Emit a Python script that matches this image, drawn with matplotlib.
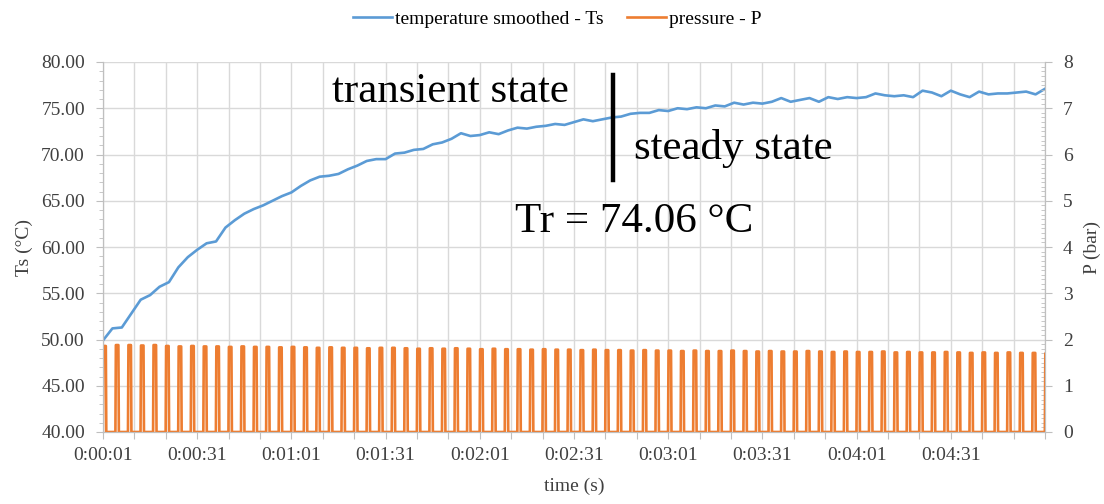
import matplotlib
matplotlib.use("Agg")
import matplotlib.pyplot as plt
from matplotlib.ticker import MultipleLocator, FixedLocator, FuncFormatter

plt.rcParams['font.family'] = ['Liberation Serif', 'DejaVu Serif']

# temperature smoothed (degC), read every 3 s from t = 1 s
temp_time = list(range(1, 302, 3))
temp_vals = [49.9, 51.2, 51.3, 52.8, 54.3, 54.8, 55.7, 56.2, 57.8, 58.9,
             59.7, 60.4, 60.6, 62.1, 62.9, 63.6, 64.1, 64.5, 65.0, 65.5,
             65.9, 66.6, 67.2, 67.6, 67.7, 67.9, 68.4, 68.8, 69.3, 69.5,
             69.5, 70.1, 70.2, 70.5, 70.6, 71.1, 71.3, 71.7, 72.3, 72.0,
             72.1, 72.4, 72.2, 72.6, 72.9, 72.8, 73.0, 73.1, 73.3, 73.2,
             73.5, 73.8, 73.6, 73.8, 74.0, 74.1, 74.4, 74.5, 74.5, 74.8,
             74.7, 75.0, 74.9, 75.1, 75.0, 75.3, 75.2, 75.6, 75.4, 75.6,
             75.5, 75.7, 76.1, 75.7, 75.9, 76.1, 75.7, 76.2, 76.0, 76.2,
             76.1, 76.2, 76.6, 76.4, 76.3, 76.4, 76.2, 76.9, 76.7, 76.3,
             76.9, 76.5, 76.2, 76.8, 76.5, 76.6, 76.6, 76.7, 76.8, 76.5,
             77.1]

# pressure pulses (bar): one pulse every 4 s, peak value of each pulse
pulse_time = list(range(1, 302, 4))
pulse_peak = [1.86, 1.88, 1.88, 1.87, 1.88, 1.86, 1.85, 1.86, 1.85, 1.85,
              1.84, 1.85, 1.84, 1.84, 1.83, 1.84, 1.83, 1.82, 1.83, 1.82,
              1.82, 1.81, 1.82, 1.82, 1.81, 1.80, 1.81, 1.80, 1.81, 1.80,
              1.79, 1.80, 1.79, 1.79, 1.78, 1.79, 1.78, 1.78, 1.77, 1.78,
              1.77, 1.77, 1.76, 1.77, 1.76, 1.76, 1.75, 1.76, 1.75, 1.75,
              1.76, 1.75, 1.74, 1.75, 1.74, 1.74, 1.75, 1.74, 1.73, 1.74,
              1.73, 1.73, 1.74, 1.72, 1.73, 1.72, 1.72, 1.73, 1.72, 1.71,
              1.72, 1.71, 1.72, 1.71, 1.71, 1.70]

tr_value = 74.06
tr_time = 163.5

blue = '#5b9bd5'
orange = '#ed7d31'
grey = '#d9d9d9'
txt = '#404040'

# pulse waveform for the line plot
p_t = []
p_v = []
for t0, pk in zip(pulse_time, pulse_peak):
    p_t += [t0 - 0.05, t0 + 0.1, t0 + 0.9, t0 + 1.05]
    p_v += [0, pk, pk, 0]


def hms(x, pos):
    s = int(round(x))
    if (s - 1) % 30 != 0 or s > 290:
        return ''
    return "%d:%02d:%02d" % (s // 3600, (s % 3600) // 60, s % 60)


fig = plt.figure(figsize=(11.04, 5.04), dpi=100)
ax = fig.add_axes([103 / 1104, 72 / 504, 942 / 1104, 370 / 504])
ax2 = ax.twinx()

l1, = ax.plot(temp_time, temp_vals, color=blue, lw=1.9, label='temperature smoothed - Ts')
l2, = ax2.plot(p_t, p_v, color=orange, lw=1.9, label='pressure - P')

ax.set_xlim(1, 301)
ax.set_ylim(40, 80)
ax2.set_ylim(0, 8)

ax.xaxis.set_major_locator(FixedLocator(list(range(1, 302, 10))))
ax.xaxis.set_major_formatter(FuncFormatter(hms))
ax.yaxis.set_major_locator(MultipleLocator(5))
ax.yaxis.set_minor_locator(MultipleLocator(1))
ax.yaxis.set_major_formatter(FuncFormatter(lambda y, p: "%.2f" % y))
ax2.yaxis.set_major_locator(MultipleLocator(1))
ax2.yaxis.set_minor_locator(MultipleLocator(0.1))

ax.grid(True, which='major', color=grey, lw=1.0)
ax.set_axisbelow(True)

for a in (ax, ax2):
    a.spines['top'].set_visible(False)
    for side in ('left', 'right', 'bottom'):
        a.spines[side].set_color('#bfbfbf')
ax.tick_params(axis='both', which='major', colors='#bfbfbf', labelcolor=txt, labelsize=14, length=5)
ax.tick_params(axis='y', which='minor', colors='#bfbfbf', length=3)
ax.tick_params(axis='y', pad=8)
ax.tick_params(axis='x', pad=6)
ax2.tick_params(axis='y', which='major', colors='#bfbfbf', labelcolor=txt, labelsize=14, length=5, pad=8)
ax2.tick_params(axis='y', which='minor', colors='#bfbfbf', length=3, direction='in')

ax.set_xlabel('time (s)', fontsize=14, color=txt, labelpad=10)
ax.set_ylabel('Ts (\u00b0C)', fontsize=14, color=txt, labelpad=6)
ax2.set_ylabel('P (bar)', fontsize=14, color=txt, labelpad=8)

# annotations
ax.text(149.5, 76.8, 'transient state', fontsize=31, ha='right', va='center', color='black')
ax.text(170.0, 70.7, 'steady state', fontsize=31, ha='left', va='center', color='black')
ax.text(132.3, 62.7, 'Tr = %.2f \u00b0C' % tr_value, fontsize=31, ha='left', va='center', color='black')
ax.plot([tr_time, tr_time], [67.2, 78.6], color='black', lw=3.2)

fig.legend(handles=[l1, l2], loc='upper center', bbox_to_anchor=(0.505, 1.015), ncol=2,
           frameon=False, fontsize=14, handlelength=2.0, handletextpad=0.15,
           columnspacing=1.2)

fig.savefig('out.png', dpi=100)
